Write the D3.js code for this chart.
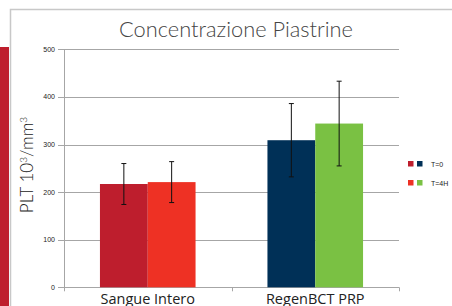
<!DOCTYPE html>
<html lang="it">
<head>
<meta charset="utf-8" />
<title>Concentrazione Piastrine</title>
<script src="https://cdn.jsdelivr.net/npm/d3@7"></script>
<style>
  html,body{margin:0;padding:0;background:#fff;}
  svg{display:block;}
</style>
</head>
<body>
<svg id="svg" width="452" height="306"></svg>
<script>
// data
const categories = ['Sangue Intero', 'RegenBCT PRP'];
const series = ['T=0', 'T=4H'];
const means = [[217, 221], [309, 344]];
const errs  = [[43, 43], [77, 89]];
const yTicks = [0, 100, 200, 300, 400, 500];
const colors = [['#be1e2d', '#ee3124'], ['#003057', '#7ac143']];

const svg = d3.select('#svg');

// page frame + red strip
svg.append('rect').attr('x', 0).attr('y', 47).attr('width', 9).attr('height', 259).attr('fill', '#be1e2d');
svg.append('path').attr('d', 'M10.5,306V9.5H452').attr('fill', 'none').attr('stroke', '#c8c8c8').attr('stroke-width', 1.5);

const m = {l: 64, r: 399, t: 49.3, b: 287.3};
const x = d3.scaleBand().domain(categories).range([m.l, m.r]);
const y = d3.scaleLinear().domain([0, 500]).range([m.b, m.t]);
const bw = 47.8;

svg.append('text').attr('x', 236).attr('y', 37).attr('text-anchor', 'middle')
  .attr('font-family', 'Lato').attr('font-weight', 300).attr('font-size', 21.8).attr('fill', '#444')
  .text('Concentrazione Piastrine');

// gridlines
svg.append('g').selectAll('line').data(yTicks).join('line')
  .attr('x1', m.l - 6).attr('x2', m.r).attr('y1', d => Math.round(y(d)) + 0.5).attr('y2', d => Math.round(y(d)) + 0.5)
  .attr('stroke', '#a6a6a6').attr('stroke-width', 1);
svg.append('line').attr('x1', m.l + 0.5).attr('x2', m.l + 0.5).attr('y1', y(500)).attr('y2', m.b + 3)
  .attr('stroke', '#a6a6a6');
svg.append('g').selectAll('line').data([m.l, m.l + x.step(), m.r]).join('line')
  .attr('x1', d => Math.round(d) + 0.5).attr('x2', d => Math.round(d) + 0.5).attr('y1', m.b).attr('y2', m.b + 4)
  .attr('stroke', '#a6a6a6');

svg.append('g').selectAll('text').data(yTicks).join('text')
  .attr('x', 55).attr('y', d => y(d) + 2.5).attr('text-anchor', 'end')
  .attr('font-family', 'Liberation Sans').attr('font-size', 7).attr('fill', '#222')
  .text(d => d);

// bars
const g = svg.append('g');
categories.forEach((c, i) => {
  const cx = x(c) + x.bandwidth() / 2;
  means[i].forEach((v, j) => {
    const bx = cx - bw + j * bw;
    g.append('rect').attr('x', bx).attr('y', y(v)).attr('width', bw).attr('height', y(0) - y(v))
      .attr('fill', colors[i][j]);
    const ex = bx + bw / 2;
    const lo = y(v - errs[i][j]), hi = y(v + errs[i][j]);
    g.append('line').attr('x1', ex).attr('x2', ex).attr('y1', hi).attr('y2', lo).attr('stroke', '#111').attr('stroke-width', 1);
    [hi, lo].forEach(yy => g.append('line').attr('x1', ex - 2.5).attr('x2', ex + 2.5).attr('y1', yy).attr('y2', yy)
      .attr('stroke', '#111').attr('stroke-width', 1));
  });
  svg.append('text').attr('x', cx).attr('y', 303.5).attr('text-anchor', 'middle')
    .attr('font-family', 'Open Sans').attr('font-size', 14.5).attr('fill', '#222').text(c);
});

// y label
svg.append('text').attr('transform', 'translate(33,165) rotate(-90)').attr('text-anchor', 'middle')
  .attr('font-family', 'Lato').attr('font-weight', 300).attr('font-size', 17).attr('fill', '#222')
  .html('PLT 10<tspan dy="-6" font-size="10">3</tspan><tspan dy="6">/mm</tspan><tspan dy="-6" font-size="10">3</tspan>');

// legend
const leg = svg.append('g');
series.forEach((s, j) => {
  const ly = 164 + j * 19;
  leg.append('rect').attr('x', 408).attr('y', ly - 3).attr('width', 5.5).attr('height', 5.5).attr('fill', colors[0][j]);
  leg.append('rect').attr('x', 417).attr('y', ly - 3).attr('width', 5.5).attr('height', 5.5).attr('fill', colors[1][j]);
  leg.append('text').attr('x', 431).attr('y', ly + 2.5).attr('font-family', 'Liberation Sans').attr('font-size', 7)
    .attr('fill', '#222').text(s);
});
</script>
</body>
</html>
